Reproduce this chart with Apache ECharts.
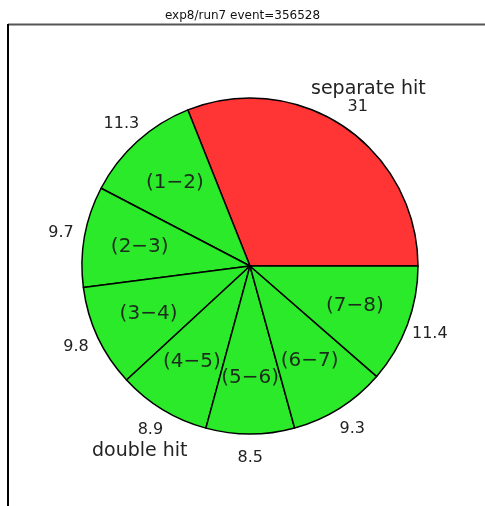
<!DOCTYPE html>
<html>
<head>
<meta charset="utf-8">
<script src="https://cdn.jsdelivr.net/npm/echarts@6/dist/echarts.min.js"></script>
<style>
  html, body { margin: 0; padding: 0; background: #fff; }
  #main { width: 485px; height: 506px; }
</style>
</head>
<body>
<div id="main"></div>
<script>
  // slices, counter-clockwise from 3 o'clock
  var sliceNames = ['separate hit', '(1-2)', '(2-3)', '(3-4)', '(4-5)', '(5-6)', '(6-7)', '(7-8)']
  var sliceValues = [31, 11.3, 9.7, 9.8, 8.9, 8.5, 9.3, 11.4]
  var innerLabels = ['', '(1−2)', '(2−3)', '(3−4)', '(4−5)', '(5−6)', '(6−7)', '(7−8)']
  var titleText = 'exp8/run7 event=356528'

  var redFill = '#ff3434'
  var greenFill = '#2aea2a'

  var font = '"DejaVu Sans", "Liberation Sans", sans-serif'
  var cx = 250, cy = 266, R = 168

  var mainData = sliceNames.map(function (n, i) {
    return { name: n, value: sliceValues[i], itemStyle: { color: i === 0 ? redFill : greenFill } }
  })
  var innerData = sliceNames.map(function (n, i) {
    return { name: innerLabels[i], value: sliceValues[i] }
  })
  var outerData = sliceNames.map(function (n, i) {
    return { name: n, value: sliceValues[i] }
  })

  var chart = echarts.init(document.getElementById('main'))
  var option = {
    animation: false,
    title: {
      text: titleText,
      left: 'center',
      top: 5,
      textStyle: { fontFamily: font, fontSize: 12, fontWeight: 'normal', color: '#111' }
    },
    graphic: [
      { type: 'line', shape: { x1: 8, y1: 24.5, x2: 485, y2: 24.5 }, style: { stroke: '#555', lineWidth: 2 } },
      { type: 'line', shape: { x1: 8, y1: 24, x2: 8, y2: 506 }, style: { stroke: '#000', lineWidth: 2 } },
      { type: 'text', left: 311, top: 80, style: { text: 'separate hit', font: '19px ' + font, fill: '#222' } },
      { type: 'text', left: 92, top: 442, style: { text: 'double hit', font: '19px ' + font, fill: '#222' } }
    ],
    series: [
      {
        type: 'pie',
        center: [cx, cy],
        radius: [0, R],
        startAngle: 0,
        clockwise: false,
        silent: true,
        label: { show: false },
        labelLine: { show: false },
        itemStyle: { borderColor: '#000', borderWidth: 1.5 },
        data: mainData
      },
      {
        type: 'pie',
        center: [cx, cy],
        radius: [100, 118],
        startAngle: 0,
        clockwise: false,
        silent: true,
        itemStyle: { color: 'rgba(0,0,0,0)', borderWidth: 0 },
        label: {
          show: true,
          position: 'inside',
          formatter: '{b}',
          fontFamily: font,
          fontSize: 20,
          color: '#1c2c1c'
        },
        labelLine: { show: false },
        data: innerData
      },
      {
        type: 'pie',
        center: [cx, cy],
        radius: [180, 198],
        startAngle: 0,
        clockwise: false,
        silent: true,
        itemStyle: { color: 'rgba(0,0,0,0)', borderWidth: 0 },
        label: {
          show: true,
          position: 'inside',
          formatter: '{c}',
          fontFamily: font,
          fontSize: 16,
          color: '#222'
        },
        labelLine: { show: false },
        data: outerData
      }
    ]
  }
  chart.setOption(option)
</script>
</body>
</html>
